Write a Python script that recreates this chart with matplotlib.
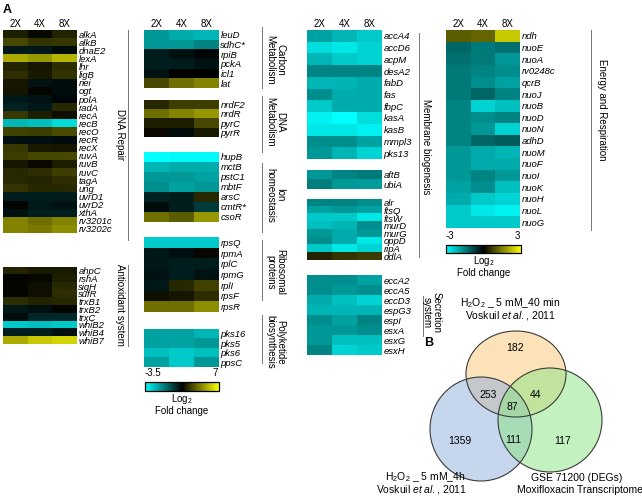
import matplotlib
matplotlib.use("Agg")
import matplotlib.pyplot as plt
import numpy as np
from matplotlib.colors import LinearSegmentedColormap, TwoSlopeNorm
from matplotlib.patches import Ellipse

plt.rcParams['font.family'] = ['Liberation Sans', 'DejaVu Sans']
plt.rcParams['mathtext.fontset'] = 'custom'
plt.rcParams['mathtext.rm'] = 'Liberation Sans'
plt.rcParams['mathtext.it'] = 'Liberation Sans:italic'

conds = ['2X', '4X', '8X']

# ---- panel A data (log2 fold change, columns 2X / 4X / 8X) ----
dna_repair_genes = ['alkA', 'alkB', 'dnaE2', 'lexA', 'lhr', 'ligB', 'nei', 'ogt', 'polA', 'radA',
                    'recA', 'recB', 'recO', 'recR', 'recX', 'ruvA', 'ruvB', 'ruvC', 'tagA', 'ung',
                    'uvrD1', 'uvrD2', 'xthA', 'rv3201c', 'rv3202c']
dna_repair_vals = [[0.82, 0.27, 0.96], [1.92, 1.37, 1.51], [-0.34, -0.34, -0.14], [4.67, 4.12, 4.94],
                   [0.96, 0.55, 1.24], [1.24, 0.69, 1.37], [0.55, -0.27, -0.14], [0.55, 0.14, -0.14],
                   [-0.34, -0.27, -0.07], [-0.48, -0.34, 1.1], [1.51, 0.82, 0.41], [-2.5, -2.6, -3.0],
                   [1.78, 1.65, 2.06], [-0.2, -0.2, -0.14], [1.51, 0.69, 0.55], [1.65, 1.92, 1.92],
                   [0.55, 0.27, 0.82], [1.1, 1.24, 1.65], [1.1, 0.96, 1.24], [1.37, 1.1, 1.1],
                   [-0.41, -0.41, -0.41], [0.1, -0.34, -0.27], [-0.2, -0.41, -0.41],
                   [3.57, 3.02, 3.57], [3.57, 3.3, 3.85]]

antiox_genes = ['ahpC', 'rshA', 'sigH', 'sufR', 'trxB1', 'trxB2', 'trxC', 'whiB2', 'whiB4', 'whiB7']
antiox_vals = [[0.96, 0.69, 0.69], [0.14, 0.27, 0.82], [0.14, 0.41, 1.1], [0.14, 0.41, 1.24],
               [1.24, 0.96, 1.1], [-0.34, -0.2, 0.14], [-0.14, -0.55, -0.55], [-2.75, -2.6, -2.75],
               [-0.41, -0.41, -0.2], [4.67, 5.5, 5.76]]

carbon_genes = ['leuD', 'sdhC*', 'rpiB', 'pckA', 'icl1', 'lat']
carbon_vals = [[-2.06, -2.33, -2.47], [-2.06, -2.06, -1.78], [-0.41, -0.2, -0.07],
               [-0.41, -0.41, -0.27], [-0.27, 0.0, 0.0], [1.92, 3.02, 3.57]]

dnamet_genes = ['nrdF2', 'nrdR', 'pyrC', 'pyrR']
dnamet_vals = [[1.1, 1.65, 1.65], [3.02, 3.57, 4.12], [0.82, 0.82, 1.92], [0.27, -0.14, 0.69]]

ion_genes = ['hupB', 'mctB', 'pstC1', 'mbtF', 'arsC', 'cmtR*', 'csoR']
ion_vals = [[-3.5, -3.4, -3.4], [-2.47, -2.33, -2.33], [-2.06, -2.06, -2.2], [-1.92, -2.2, -2.06],
            [-0.48, -0.41, 1.1], [-0.14, -0.41, -0.82], [3.02, 2.47, 4.12]]

ribo_genes = ['rpsQ', 'rpmA', 'rplC', 'rpmG', 'rplI', 'rpsF', 'rpsR']
ribo_vals = [[-2.75, -2.75, -2.75], [-0.34, -0.2, 0.27], [-0.34, -0.41, -0.41], [-0.27, -0.41, -0.27],
             [-0.34, 1.1, 1.78], [0.41, 0.55, 1.24], [3.02, 3.02, 3.85]]

pks_genes = ['pks16', 'pks5', 'pks6', 'ppsC']
pks_vals = [[-2.2, -2.2, -2.47], [-2.2, -2.2, -2.06], [-2.6, -2.75, -2.6], [-2.2, -2.75, -2.06]]

memb1_genes = ['accA4', 'accD6', 'acpM', 'desA2', 'fabD', 'fas', 'fbpC', 'kasA', 'kasB', 'mmpl3', 'pks13']
memb1_vals = [[-1.88, -2.12, -2.35], [-2.6, -2.7, -2.47], [-2.12, -2.35, -2.47], [-1.53, -1.53, -1.53],
              [-2.12, -2.12, -2.0], [-1.65, -2.0, -2.0], [-2.35, -2.0, -2.0], [-2.82, -3.0, -2.6],
              [-2.7, -2.7, -2.82], [-1.65, -1.65, -1.88], [-1.76, -2.12, -2.47]]

memb2_genes = ['aftB', 'ubiA']
memb2_vals = [[-1.76, -1.53, -1.41], [-1.47, -1.76, -1.82]]

memb3_genes = ['alr', 'ftsQ', 'ftsW', 'murD', 'murG', 'oppD', 'ripA', 'ddlA']
memb3_vals = [[-1.53, -1.53, -1.65], [-1.88, -1.76, -1.88], [-2.35, -2.35, -2.7], [-2.24, -2.12, -1.65],
              [-1.76, -2.0, -1.76], [-1.65, -2.0, -2.7], [-2.35, -2.7, -2.47], [0.41, 0.59, 0.7]]

secr_genes = ['eccA2', 'eccA5', 'eccD3', 'espG3', 'espI', 'esxA', 'esxG', 'esxH']
secr_vals = [[-1.65, -1.65, -1.88], [-1.65, -1.76, -1.65], [-2.0, -2.24, -2.47], [-2.12, -2.12, -2.12],
             [-1.65, -1.88, -1.53], [-1.76, -1.76, -1.65], [-1.76, -2.24, -2.24], [-1.53, -2.47, -2.35]]

energy_genes = ['ndh', 'nuoE', 'nuoA', 'rv0248c', 'qcrB', 'nuoJ', 'nuoB', 'nuoD', 'nuoN', 'adhD',
                'nuoM', 'nuoF', 'nuoI', 'nuoK', 'nuoH', 'nuoL', 'nuoG']
energy_vals = [[1.06, 1.18, 2.35], [-1.18, -1.41, -1.29], [-1.29, -1.41, -1.76], [-1.41, -1.53, -1.65],
               [-1.41, -1.65, -1.88], [-1.41, -1.18, -1.53], [-1.53, -2.47, -2.24], [-1.53, -1.65, -1.53],
               [-1.53, -1.76, -2.47], [-1.53, -1.18, -1.06], [-1.76, -2.0, -2.12], [-1.76, -2.0, -2.0],
               [-1.76, -1.53, -1.76], [-1.88, -1.65, -2.24], [-2.0, -2.35, -2.47], [-2.35, -2.7, -2.82],
               [-2.35, -2.35, -2.35]]

# ---- panel B data ----
venn_counts = {'A': 182, 'AB': 253, 'ABC': 87, 'AC': 44, 'B': 1359, 'BC': 111, 'C': 117}

W, H = 642, 496
fig = plt.figure(figsize=(W / 100, H / 100), dpi=100)
bg = fig.add_axes([0, 0, 1, 1])
bg.set_xlim(0, W)
bg.set_ylim(H, 0)
bg.axis('off')

cmap = LinearSegmentedColormap.from_list('cby', ['#00ffff', '#000000', '#ffff00'])
norm_a = TwoSlopeNorm(vcenter=0, vmin=-3.5, vmax=7)
norm_b = TwoSlopeNorm(vcenter=0, vmin=-3, vmax=3)


def px_axes(x0, y0, x1, y1):
    return fig.add_axes([x0 / W, 1 - y1 / H, (x1 - x0) / W, (y1 - y0) / H])


def heat(box, genes, vals, norm, header=False):
    ax = px_axes(*box)
    ax.imshow(np.array(vals), cmap=cmap, norm=norm, aspect='auto', interpolation='nearest')
    ax.yaxis.tick_right()
    ax.set_yticks(range(len(genes)), genes, fontstyle='italic', fontsize=6.8)
    if header:
        ax.xaxis.tick_top()
        ax.set_xticks(range(3), conds, fontsize=7)
    else:
        ax.set_xticks([])
    ax.tick_params(length=0, pad=1)
    for s in ax.spines.values():
        s.set_visible(False)
    return ax


def group_label(x_line, y0, y1, text, x_text, yc, fs=7):
    bg.plot([x_line, x_line], [y0, y1], color='#777777', lw=0.7)
    bg.text(x_text, yc, text, rotation=-90, ha='center', va='center', fontsize=fs,
            multialignment='center', linespacing=1.0)


# column 1
heat((3, 30, 77, 233), dna_repair_genes, dna_repair_vals, norm_a, header=True)
heat((3, 267, 77, 344), antiox_genes, antiox_vals, norm_a)
group_label(128, 30, 240, 'DNA Repair', 120, 135)
group_label(128, 265, 346, 'Antioxidant system', 120, 305)

# column 2
heat((144, 30, 219, 88), carbon_genes, carbon_vals, norm_a, header=True)
heat((144, 100, 219, 137), dnamet_genes, dnamet_vals, norm_a)
heat((144, 152, 219, 222), ion_genes, ion_vals, norm_a)
heat((144, 237, 219, 312), ribo_genes, ribo_vals, norm_a)
heat((144, 329, 219, 367), pks_genes, pks_vals, norm_a)
group_label(262, 27, 88, 'Carbon\nMetabolism', 275, 60)
group_label(262, 96, 152, 'DNA\nMetabolism', 275, 122)
group_label(262, 163, 232, 'Ion\nhomeostasis', 275, 195)
group_label(262, 240, 300, 'Ribosomal\nproteins', 275, 272)
group_label(262, 315, 363, 'Polyketide\nbiosynthesis', 275, 342)

# column 3
heat((307, 30, 382, 159), memb1_genes, memb1_vals, norm_b, header=True)
heat((307, 170, 382, 189), memb2_genes, memb2_vals, norm_b)
heat((307, 199, 382, 260), memb3_genes, memb3_vals, norm_b)
heat((307, 275, 382, 355), secr_genes, secr_vals, norm_b)
group_label(419, 33, 257, 'Membrane biogenesis', 426, 147)
group_label(423, 296, 336, 'Secretion\nsystem', 432, 313)

# column 4
heat((446, 30, 520, 228), energy_genes, energy_vals, norm_b, header=True)
group_label(591, 30, 230, 'Energy and Respiration', 602, 110)


def cbar(box, norm, lo, hi):
    cax = px_axes(*box)
    sm = plt.cm.ScalarMappable(norm=norm, cmap=cmap)
    cb = fig.colorbar(sm, cax=cax, orientation='horizontal')
    cb.set_ticks([])
    cb.outline.set_linewidth(0.9)
    x0, y0, x1, y1 = box
    bg.text(x0, y0 - 4, lo, ha='left', va='bottom', fontsize=7)
    bg.text(x1 - 4, y0 - 4, hi, ha='center', va='bottom', fontsize=7)
    xc = (x0 + x1) / 2
    bg.text(xc, y1 + 1, 'Log$_2$', ha='center', va='top', fontsize=7)
    bg.text(xc, y1 + 15, 'Fold change', ha='center', va='top', fontsize=7)


cbar((145, 382, 219, 391), norm_a, '-3.5', '7')
cbar((446, 245, 521, 253), norm_b, '-3', '3')

bg.text(3, 10, 'A', fontsize=9, fontweight='bold', va='center')
bg.text(424, 343, 'B', fontsize=9, fontweight='bold', va='center')

# Venn diagram
venn_shapes = [((516, 374), 100, 86, '#FBC774'),
               ((481, 429), 102, 104, '#8FAFDD'),
               ((550, 420), 104, 104, '#88E582')]
for (c, w, h, col) in venn_shapes:
    bg.add_patch(Ellipse(c, w, h, facecolor=col, alpha=0.5, edgecolor='none'))
for (c, w, h, col) in venn_shapes:
    bg.add_patch(Ellipse(c, w, h, facecolor='none', edgecolor='#3a3a3a', lw=0.8))

count_pos = {'A': (515, 348), 'AB': (488, 395), 'ABC': (512, 407), 'AC': (536, 395),
             'B': (460, 441), 'BC': (513, 440), 'C': (563, 441)}
for k, v in venn_counts.items():
    bg.text(*count_pos[k], str(v), ha='center', va='center', fontsize=7.5)

bg.text(510, 303, 'H$_2$O$_2$ _ 5 mM_40 min', ha='center', va='center', fontsize=7.5)
bg.text(510, 316, 'Voskuil $\\mathit{et\\ al.}$, 2011', ha='center', va='center', fontsize=7.5)
bg.text(425, 477, 'H$_2$O$_2$ _ 5 mM_4h', ha='center', va='center', fontsize=7.5)
bg.text(421, 490, 'Voskuil $\\mathit{et\\ al.}$, 2011', ha='center', va='center', fontsize=7.5)
bg.text(577, 478, 'GSE 71200 (DEGs)', ha='center', va='center', fontsize=7.5)
bg.text(580, 490, 'Moxifloxacin Transcriptome', ha='center', va='center', fontsize=7.5)

fig.savefig('out.png', dpi=100)
